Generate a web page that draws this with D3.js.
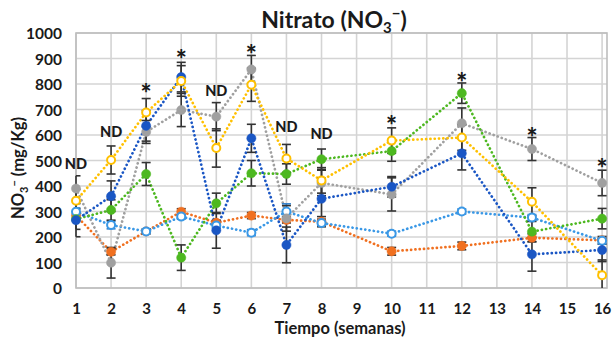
<!DOCTYPE html>
<html><head><meta charset="utf-8">
<script src="https://cdn.jsdelivr.net/npm/d3@7"></script>
<style>
html,body{margin:0;padding:0;background:#fff;}
text{font-family:Lato,"Open Sans",sans-serif;font-weight:700;fill:#1a1a1a;}
</style></head>
<body><svg id="c" width="615" height="340"></svg>
<script>
const weeks = [1,2,3,4,5,6,7,8,10,12,14,16];
const grayVals   = [390, 99, 612, 698, 672, 857, 273, 412, 367, 646, 545, 412];
const grayErr    = [50, 60, 45, 65, 55, 55, 50, 50, 65, 60, 45, 50];
const yellowVals = [342, 502, 688, 812, 549, 797, 508, 422, 578, 590, 338, 50];
const yellowErr  = [45, 55, 55, 60, 75, 65, 55, 50, 50, 50, 55, 60];
const blueVals   = [266, 360, 636, 827, 226, 587, 169, 350, 397, 528, 132, 149];
const blueErr    = [65, 60, 60, 58, 70, 55, 70, 80, 40, 65, 66, 45];
const greenVals  = [270, 306, 447, 119, 332, 450, 447, 505, 537, 764, 221, 272];
const greenErr   = [40, 40, 45, 50, 40, 50, 40, 40, 40, 40, 40, 40];
const lblueVals  = [299, 247, 222, 280, 245, 217, 300, 255, 213, 300, 276, 185];
const lblueErr   = [15, 15, 8, 10, 10, 12, 30, 10, 10, 10, 12, 12];
const orangeVals = [284, 142, 222, 299, 256, 284, 267, 260, 144, 165, 197, 187];
const orangeErr  = [10, 12, 10, 12, 10, 12, 12, 20, 15, 15, 15, 15];
const xTicks = [1,2,3,4,5,6,7,8,9,10,11,12,13,14,15,16];
const yTicks = [0,100,200,300,400,500,600,700,800,900,1000];
const annotWeeks  = [1, 2, 3, 4, 5, 6, 7, 8, 10, 12, 14, 16];
const annotLabels = ["ND","ND","*","*","ND","*","ND","ND","*","*","*","*"];
const annotLevels = [487, 613, 800, 934, 772, 950, 633, 605, 673, 843, 625, 506];

const series = [
  {vals: orangeVals, err: orangeErr, color: "#F07020", open: false, errColor: "#333"},
  {vals: lblueVals,  err: lblueErr,  color: "#3A98E6", open: true,  errColor: "#2F7FCC"},
  {vals: grayVals,   err: grayErr,   color: "#A0A0A0", open: false, errColor: "#333"},
  {vals: greenVals,  err: greenErr,  color: "#4DB820", open: false, errColor: "#333"},
  {vals: blueVals,   err: blueErr,   color: "#1A56C4", open: false, errColor: "#333"},
  {vals: yellowVals, err: yellowErr, color: "#FFC000", open: true,  errColor: "#333"}
];

const svg = d3.select("#c");
const L = 76, R = 607, T = 33, B = 288;
const x = d3.scaleLinear().domain([1, 16.14]).range([L, R]);
const y = d3.scaleLinear().domain([0, 1000]).range([B, T]);

// gridlines
const g = svg.append("g");
g.selectAll("line.h").data(yTicks).join("line")
  .attr("x1", L).attr("x2", R).attr("y1", d => y(d)).attr("y2", d => y(d))
  .attr("stroke", "#D4D4D4").attr("stroke-width", 1.6);
g.selectAll("line.v").data(xTicks).join("line")
  .attr("x1", d => x(d)).attr("x2", d => x(d)).attr("y1", T).attr("y2", B)
  .attr("stroke", "#D4D4D4").attr("stroke-width", 1.6);
svg.append("rect").attr("x", L).attr("y", T).attr("width", R - L).attr("height", B - T)
  .attr("fill", "none").attr("stroke", "#BDBDBD").attr("stroke-width", 1.6);

// axes
const xAxis = d3.axisBottom(x).tickValues(xTicks).tickSize(0).tickPadding(0).tickFormat(d3.format("d"));
const xa = svg.append("g").attr("transform", `translate(0,${B})`).call(xAxis);
xa.select(".domain").remove();
xa.selectAll("text").attr("dy", null).attr("y", 26).style("font-size", "15px").attr("fill", "#1a1a1a");
const yAxis = d3.axisLeft(y).tickValues(yTicks).tickSize(0).tickPadding(0).tickFormat(d3.format("d"));
const ya = svg.append("g").attr("transform", `translate(${L - 14},0)`).call(yAxis);
ya.select(".domain").remove();
ya.selectAll("text").attr("dy", "0.36em").attr("x", 0).style("font-size", "15.5px").attr("fill", "#1a1a1a");

// lines, error bars, markers
const line = d3.line().x((d, i) => x(weeks[i])).y(d => y(d));
const clamp = v => Math.max(0, Math.min(1000, v));
series.forEach(s => {
  svg.append("path").datum(s.vals).attr("d", line)
    .attr("fill", "none").attr("stroke", s.color).attr("stroke-width", 2.7)
    .attr("stroke-dasharray", "0.1,4.2").attr("stroke-linecap", "round");
});
series.forEach(s => {
  const eg = svg.append("g").attr("stroke", s.errColor).attr("stroke-width", 1.6);
  s.vals.forEach((v, i) => {
    const cx = x(weeks[i]);
    const lo = clamp(v - s.err[i]), hi = clamp(v + s.err[i]);
    const x0 = Math.max(L, cx - 4.5), x1 = cx + 4.5;
    eg.append("line").attr("x1", cx).attr("x2", cx).attr("y1", y(lo)).attr("y2", y(hi));
    eg.append("line").attr("x1", x0).attr("x2", x1).attr("y1", y(hi)).attr("y2", y(hi));
    if (v - s.err[i] >= 0) eg.append("line").attr("x1", x0).attr("x2", x1).attr("y1", y(lo)).attr("y2", y(lo));
  });
});
series.forEach(s => {
  svg.append("g").selectAll("circle").data(s.vals).join("circle")
    .attr("cx", (d, i) => x(weeks[i])).attr("cy", d => y(d))
    .attr("r", s.open ? 4 : 4.6)
    .attr("fill", s.open ? "#fff" : s.color)
    .attr("stroke", s.color).attr("stroke-width", s.open ? 2 : 0.5);
});

// annotations
svg.append("g").selectAll("text").data(annotLabels).join("text")
  .attr("x", (d, i) => x(annotWeeks[i])).attr("y", (d, i) => y(annotLevels[i]))
  .attr("text-anchor", "middle").attr("dy", d => d === "*" ? "0.72em" : "0.36em")
  .style("font-size", d => d === "*" ? "26px" : "14.5px")
  .style("font-weight", 900)
  .text(d => d);

// title
const t = svg.append("text").attr("x", 334).attr("y", 28).attr("text-anchor", "middle").style("font-size", "23px");
t.append("tspan").text("Nitrato (NO");
t.append("tspan").attr("dy", 5).style("font-size", "15px").text("3");
t.append("tspan").attr("dy", -14).style("font-size", "15px").text("−");
t.append("tspan").attr("dy", 9).text(")");

// y label
const yl = svg.append("text").attr("transform", "translate(24,168) rotate(-90)").attr("text-anchor", "middle").style("font-size", "16.5px");
yl.append("tspan").text("NO");
yl.append("tspan").attr("dy", 4).style("font-size", "11px").text("3");
yl.append("tspan").attr("dy", -10).style("font-size", "11px").text("−");
yl.append("tspan").attr("dy", 6).text(" (mg/Kg)");

// x label
svg.append("text").attr("x", 340).attr("y", 334).attr("text-anchor", "middle").style("font-size", "16.5px").text("Tiempo (semanas)");
</script></body></html>
